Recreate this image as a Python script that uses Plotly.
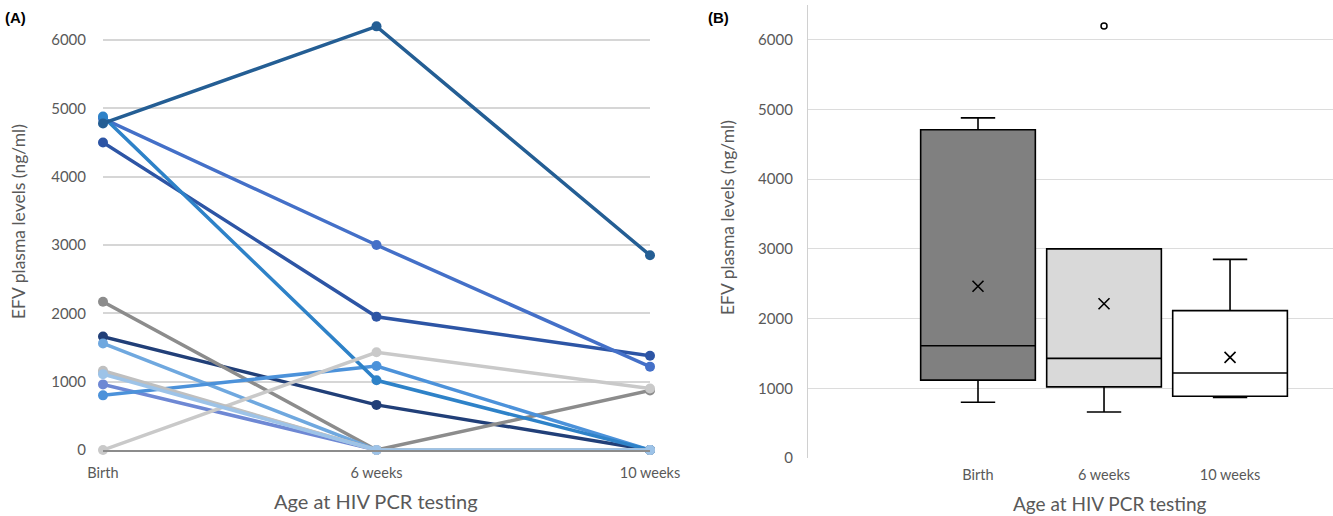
import numpy as np
import plotly.graph_objects as go

# ---------------- data ----------------
timepoints = ["Birth", "6 weeks", "10 weeks"]

# EFV plasma levels (ng/ml) per infant at Birth, 6 weeks, 10 weeks (0 = undetectable)
infant_01 = [1660, 660, 0]
infant_02 = [2170, 0, 870]
infant_03 = [4500, 1950, 1380]
infant_04 = [4850, 3000, 1220]
infant_05 = [960, 0, 0]
infant_06 = [1560, 0, 0]
infant_07 = [1140, 0, 0]
infant_08 = [800, 1230, 0]
infant_09 = [4880, 1020, 0]
infant_10 = [0, 1430, 900]
infant_11 = [1160, 0, 0]
infant_12 = [4780, 6200, 2850]
infant_13 = [1110, 0, 0]

series = [infant_01, infant_02, infant_03, infant_04, infant_05, infant_06, infant_07,
          infant_08, infant_09, infant_10, infant_11, infant_12, infant_13]
colors = ["#213F78", "#8C8C8C", "#2D55A5", "#4470C8", "#6E88D4", "#6FA8DF", "#BDBDBD",
          "#4C92DA", "#2E82C8", "#C9C9C9", "#BFBFBF", "#245E94", "#9DC3E8"]

box_fills = ["#808080", "#D9D9D9", "#FFFFFF"]

FONT = "Lato, Open Sans, sans-serif"
GREY = "#595959"

fig = go.Figure()

# ---------------- panel A ----------------
xnum = list(range(len(timepoints)))
for vals, col in zip(series, colors):
    fig.add_trace(go.Scatter(
        x=xnum, y=vals, mode="lines+markers", xaxis="x", yaxis="y",
        line=dict(color=col, width=3.5),
        marker=dict(color=col, size=10),
        cliponaxis=False, showlegend=False))

# ---------------- panel B ----------------
for i, tp in enumerate(timepoints):
    vals = np.array([s[i] for s in series], dtype=float)
    vals = vals[vals > 0]
    q1, med, q3 = np.percentile(vals, [25, 50, 75], method="weibull")
    iqr = q3 - q1
    lo_lim, hi_lim = q1 - 1.5 * iqr, q3 + 1.5 * iqr
    inside = vals[(vals >= lo_lim) & (vals <= hi_lim)]
    outl = vals[(vals < lo_lim) | (vals > hi_lim)]
    xpos = i + 1
    fig.add_trace(go.Box(
        x=[xpos], q1=[q1], median=[med], q3=[q3],
        lowerfence=[inside.min()], upperfence=[inside.max()],
        xaxis="x2", yaxis="y2", width=0.91, whiskerwidth=0.3,
        fillcolor=box_fills[i], line=dict(color="#000000", width=1.6),
        boxpoints=False, showlegend=False))
    fig.add_trace(go.Scatter(
        x=[xpos], y=[vals.mean()], mode="markers", xaxis="x2", yaxis="y2",
        marker=dict(symbol="x-thin", size=11, line=dict(color="#000000", width=1.6)),
        showlegend=False))
    if len(outl):
        fig.add_trace(go.Scatter(
            x=[xpos] * len(outl), y=outl, mode="markers", xaxis="x2", yaxis="y2",
            marker=dict(symbol="circle-open", size=6, color="#000000",
                        line=dict(width=1.5)),
            cliponaxis=False, showlegend=False))

fig.update_layout(
    width=1333, height=516,
    margin=dict(l=0, r=0, t=0, b=0, autoexpand=False),
    paper_bgcolor="white", plot_bgcolor="white",
    font=dict(family=FONT, color=GREY),
    xaxis=dict(domain=[103 / 1333, 650 / 1333], range=[0, 2], anchor="y",
               tickmode="array", tickvals=xnum, ticktext=timepoints,
               showgrid=False, zeroline=False, showline=True,
               linecolor="#8C8C8C", linewidth=2, automargin=False,
               tickfont=dict(size=14.5, color=GREY), ticks="", ticklabelstandoff=9),
    yaxis=dict(domain=[(516 - 450) / 516, (516 - 12.7) / 516], range=[0, 6400],
               anchor="x", automargin=False,
               tickvals=[0, 1000, 2000, 3000, 4000, 5000, 6000],
               showgrid=True, gridcolor="#D6D6D6", gridwidth=1.5,
               zeroline=False, showline=False,
               tickfont=dict(size=15, color=GREY), ticklabelstandoff=16),
    xaxis2=dict(domain=[808 / 1333, 1.0], range=[-0.349, 3.817], anchor="y2",
                tickmode="array", tickvals=[1, 2, 3], ticktext=timepoints,
                showgrid=False, zeroline=False, showline=False, automargin=False,
                tickfont=dict(size=14.5, color=GREY), ticks="", ticklabelstandoff=6),
    yaxis2=dict(domain=[(516 - 458) / 516, (516 - 5) / 516], range=[0, 6500],
                anchor="x2", automargin=False,
                tickvals=[0, 1000, 2000, 3000, 4000, 5000, 6000],
                showgrid=True, gridcolor="#DCDCDC", gridwidth=1.2,
                zeroline=False, showline=True, linecolor="#D0D0D0", linewidth=1.2,
                tickfont=dict(size=15, color=GREY), ticklabelstandoff=11),
    annotations=[
        dict(text="<b>(A)</b>", x=3 / 1333, y=1 - 17 / 516, xref="paper", yref="paper",
             xanchor="left", yanchor="middle", showarrow=False,
             font=dict(family="Arial, Liberation Sans", size=15, color="black")),
        dict(text="<b>(B)</b>", x=706 / 1333, y=1 - 17 / 516, xref="paper", yref="paper",
             xanchor="left", yanchor="middle", showarrow=False,
             font=dict(family="Arial, Liberation Sans", size=15, color="black")),
        dict(text="EFV plasma levels (ng/ml)", x=18 / 1333, y=1 - 222 / 516,
             xref="paper", yref="paper", textangle=-90, showarrow=False,
             xanchor="center", yanchor="middle", font=dict(size=17.5, color=GREY)),
        dict(text="Age at HIV PCR testing", x=376 / 1333, y=1 - 501 / 516,
             xref="paper", yref="paper", showarrow=False,
             xanchor="center", yanchor="middle", font=dict(size=20, color=GREY)),
        dict(text="EFV plasma levels (ng/ml)", x=727 / 1333, y=1 - 218 / 516,
             xref="paper", yref="paper", textangle=-90, showarrow=False,
             xanchor="center", yanchor="middle", font=dict(size=17.5, color=GREY)),
        dict(text="Age at HIV PCR testing", x=1110 / 1333, y=1 - 503 / 516,
             xref="paper", yref="paper", showarrow=False,
             xanchor="center", yanchor="middle", font=dict(size=19, color=GREY)),
    ],
)

fig.write_html(
    "out.html",
    config={"displayModeBar": False},
    post_script="document.body.style.margin='0';document.body.style.padding='0';"
                "document.body.style.overflow='hidden';",
)
